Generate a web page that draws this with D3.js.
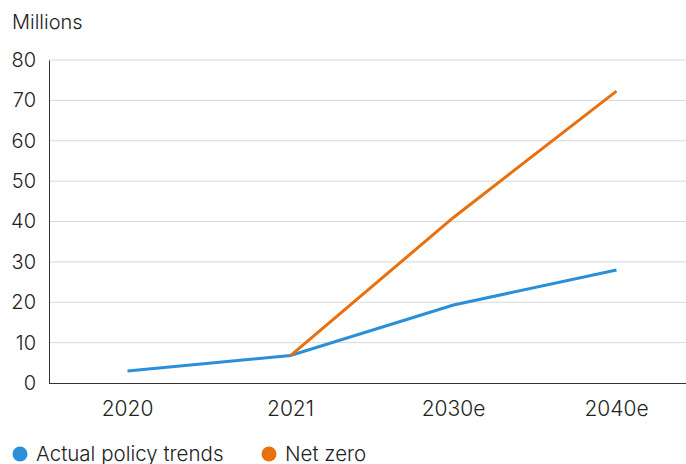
<!DOCTYPE html>
<html>
<head>
<meta charset="utf-8">
<script src="https://cdn.jsdelivr.net/npm/d3@7"></script>
<style>
  body { margin: 0; background: #fff; }
  svg { display: block; font-family: Inter, "Liberation Sans", sans-serif; font-weight: 300; }
</style>
</head>
<body>
<div id="chart"></div>
<script>
const categories = ['2020', '2021', '2030e', '2040e'];
const actualPolicy = [3.0, 6.8, 19.3, 28.0];
const netZero = [null, 6.8, 41.0, 72.3];
const yTicks = [0, 10, 20, 30, 40, 50, 60, 70, 80];

const width = 686;
const height = 464;
const margin = { top: 60, right: -12, bottom: 81, left: 49 };

const svg = d3.select('#chart').append('svg')
  .attr('width', width)
  .attr('height', height);

const x = d3.scaleBand()
  .domain(categories)
  .range([46, width - margin.right]);

const y = d3.scaleLinear()
  .domain([0, 80])
  .range([height - margin.bottom, margin.top]);

// gridlines
svg.append('g')
  .selectAll('line')
  .data(yTicks.filter(d => d > 0))
  .join('line')
  .attr('x1', margin.left)
  .attr('x2', width)
  .attr('y1', d => y(d))
  .attr('y2', d => y(d))
  .attr('stroke', '#d9d9d9')
  .attr('stroke-width', 1);

// y axis
const yAxis = svg.append('g')
  .attr('transform', `translate(${margin.left},0)`)
  .call(d3.axisLeft(y).tickValues(yTicks).tickSize(0).tickPadding(13));
yAxis.select('.domain').attr('stroke', '#333');
yAxis.selectAll('text')
  .style('font-size', '20px')
  .attr('fill', '#222')
  .attr('font-family', 'Inter, "Liberation Sans", sans-serif');

// x axis
const xAxis = svg.append('g')
  .attr('transform', `translate(0,${y(0)})`)
  .call(d3.axisBottom(x).tickSize(0).tickPadding(18));
xAxis.select('.domain').attr('d', `M${margin.left},0.5H${width}`).attr('stroke', '#333');
xAxis.selectAll('text')
  .style('font-size', '21px')
  .attr('fill', '#222')
  .attr('font-family', 'Inter, "Liberation Sans", sans-serif');

svg.append('text')
  .attr('x', 12)
  .attr('y', 29)
  .style('font-size', '20px')
  .attr('fill', '#222')
  .text('Millions');

const cx = d => x(d) + x.bandwidth() / 2;

const line = d3.line()
  .defined(d => d[1] != null)
  .x(d => cx(d[0]))
  .y(d => y(d[1]));

svg.append('path')
  .datum(categories.map((c, i) => [c, actualPolicy[i]]))
  .attr('fill', 'none')
  .attr('stroke', '#2a8fd6')
  .attr('stroke-width', 3)
  .attr('d', line);

svg.append('path')
  .datum(categories.map((c, i) => [c, netZero[i]]))
  .attr('fill', 'none')
  .attr('stroke', '#e8700e')
  .attr('stroke-width', 3)
  .attr('d', line);

// legend
const legend = [
  { name: 'Actual policy trends', color: '#2a8fd6', x: 20 },
  { name: 'Net zero', color: '#e8700e', x: 269 }
];
const lg = svg.append('g').selectAll('g').data(legend).join('g')
  .attr('transform', d => `translate(${d.x},454)`);
lg.append('circle').attr('r', 7.5).attr('fill', d => d.color);
lg.append('text')
  .attr('x', 16)
  .attr('dy', '0.35em')
  .style('font-size', '20.5px')
  .attr('fill', '#222')
  .text(d => d.name);
</script>
</body>
</html>
